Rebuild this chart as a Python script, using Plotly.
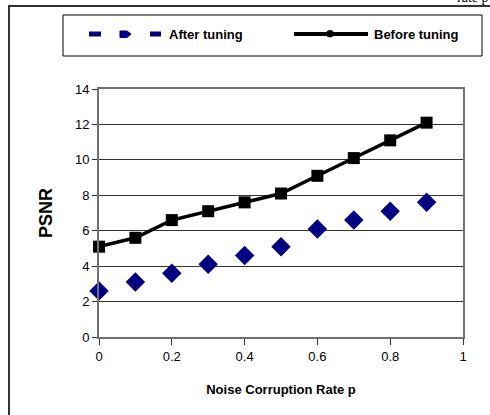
import plotly.graph_objects as go

noise_rate = [0, 0.1, 0.2, 0.3, 0.4, 0.5, 0.6, 0.7, 0.8, 0.9]
psnr_after = [2.6, 3.1, 3.6, 4.1, 4.6, 5.1, 6.1, 6.6, 7.1, 7.6]
psnr_before = [5.1, 5.6, 6.6, 7.1, 7.6, 8.1, 9.1, 10.1, 11.1, 12.1]
x_ticks = [0, 0.2, 0.4, 0.6, 0.8, 1]
x_tick_labels = ["0", "0.2", "0.4", "0.6", "0.8", "1"]
y_ticks = [0, 2, 4, 6, 8, 10, 12, 14]

W, H = 490, 415
L, R, T, B = 99, 463, 89, 337
pw, ph = R - L, B - T

def px(x):
    return (x - L) / pw

def py(y):
    return (B - y) / ph

FONT = "Liberation Sans, Arial, sans-serif"

fig = go.Figure()
fig.add_trace(go.Scatter(
    x=noise_rate, y=psnr_after, mode="markers", name="After tuning",
    marker=dict(symbol="diamond", size=15, color="#000080"),
    showlegend=False, cliponaxis=False))
fig.add_trace(go.Scatter(
    x=noise_rate, y=psnr_before, mode="lines+markers", name="Before tuning",
    line=dict(color="black", width=3.5),
    marker=dict(symbol="square", size=12, color="black"),
    showlegend=False, cliponaxis=False))

shapes = []
# outer chart border
shapes.append(dict(type="rect", xref="paper", yref="paper",
                   x0=px(9), x1=px(520), y0=py(417), y1=py(6),
                   line=dict(color="#333333", width=2), layer="below"))
# legend box
shapes.append(dict(type="rect", xref="paper", yref="paper",
                   x0=px(63), x1=px(482), y0=py(56), y1=py(15),
                   line=dict(color="black", width=1)))
# legend: After tuning symbol (dash, marker, dash)
for a, b in [(89, 101), (150, 161)]:
    shapes.append(dict(type="line", xref="paper", yref="paper",
                       x0=px(a), x1=px(b), y0=py(34), y1=py(34),
                       line=dict(color="#000080", width=5)))
shapes.append(dict(type="path", xref="paper", yref="paper",
                   path="M %f,%f L %f,%f L %f,%f L %f,%f L %f,%f Z" % (
                       px(120), py(31), px(127), py(31), px(131), py(34),
                       px(127), py(37.5), px(120), py(37.5)),
                   fillcolor="#000080", line=dict(color="#000080", width=1)))
# legend: Before tuning symbol
shapes.append(dict(type="line", xref="paper", yref="paper",
                   x0=px(294), x1=px(368), y0=py(34), y1=py(34),
                   line=dict(color="black", width=4)))
shapes.append(dict(type="circle", xref="paper", yref="paper",
                   x0=px(326.5), x1=px(333.5), y0=py(37), y1=py(30.5),
                   fillcolor="black", line=dict(color="black", width=1)))

annotations = [
    dict(text="<b>After tuning</b>", xref="paper", yref="paper",
         x=px(167), y=py(35), xanchor="left", yanchor="middle",
         showarrow=False, font=dict(family=FONT, size=13, color="black")),
    dict(text="<b>Before tuning</b>", xref="paper", yref="paper",
         x=px(372), y=py(35), xanchor="left", yanchor="middle",
         showarrow=False, font=dict(family=FONT, size=13, color="black")),
    dict(text="rate p", xref="paper", yref="paper",
         x=px(490), y=py(-3), xanchor="right", yanchor="middle",
         showarrow=False, font=dict(family="Liberation Serif, serif", size=14, color="black")),
]

fig.update_layout(
    width=W, height=H,
    margin=dict(l=L, r=W - R, t=T, b=H - B, pad=0),
    paper_bgcolor="white", plot_bgcolor="white",
    font=dict(family=FONT, size=12, color="black"),
    shapes=shapes, annotations=annotations,
    xaxis=dict(range=[0, 1], tickvals=x_ticks, ticktext=x_tick_labels,
               showgrid=False, zeroline=False,
               showline=True, linecolor="#707070", linewidth=2, mirror=True,
               ticks="outside", ticklen=6, tickcolor="#333333", tickwidth=1,
               tickfont=dict(family=FONT, size=13),
               title=dict(text="<b>Noise Corruption Rate p</b>", standoff=22,
                          font=dict(family=FONT, size=13))),
    yaxis=dict(range=[0, 14], tickvals=y_ticks,
               showgrid=True, gridcolor="#333333", gridwidth=1, zeroline=False,
               showline=True, linecolor="#707070", linewidth=2, mirror=True,
               ticks="outside", ticklen=5, tickcolor="#333333", tickwidth=1,
               tickfont=dict(family=FONT, size=13),
               title=dict(text="<b>PSNR</b>", standoff=18,
                          font=dict(family=FONT, size=18))),
)

fig.write_html("out.html",
               config={"displayModeBar": False},
               post_script="document.body.style.margin='0';document.body.style.overflow='hidden';")
